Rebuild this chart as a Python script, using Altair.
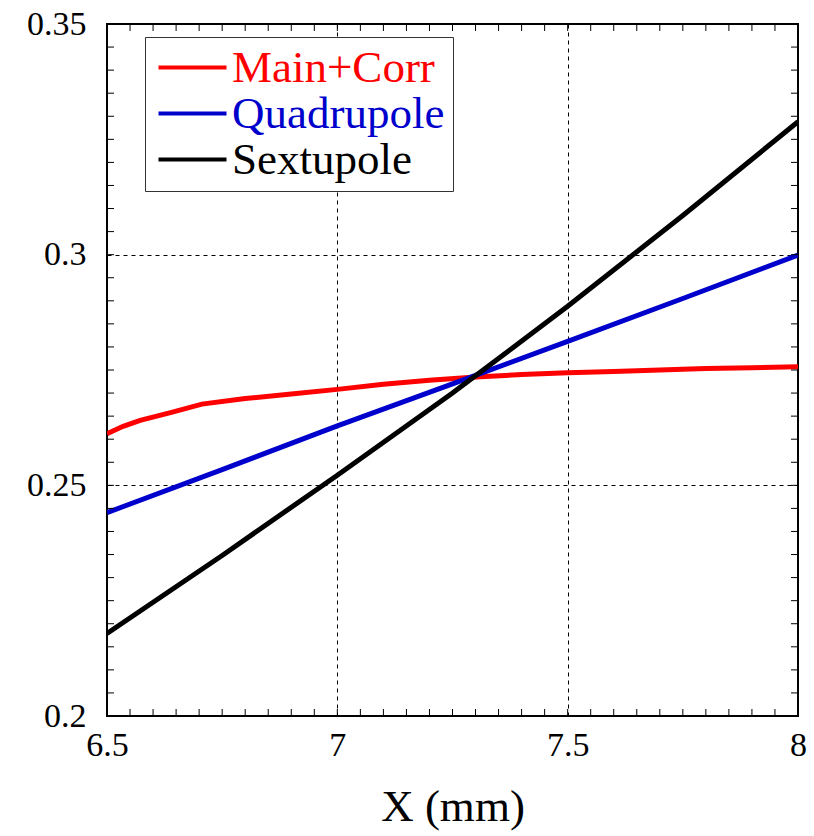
import altair as alt
import pandas as pd
import numpy as np

# ---- data ----
series_names = ["Main+Corr", "Quadrupole", "Sextupole"]
series_colors = ["#ff0000", "#0000cc", "#000000"]

x_main = [6.5, 6.535, 6.572, 6.64, 6.706, 6.8, 6.9, 7.0, 7.1, 7.2, 7.3, 7.4, 7.5, 7.6, 7.7, 7.8, 7.9, 8.0]
y_main = [0.2612, 0.2628, 0.2641, 0.2658, 0.2676, 0.2688, 0.2698, 0.2708, 0.2719, 0.2728, 0.2735, 0.2740,
          0.2744, 0.2747, 0.2750, 0.2753, 0.2755, 0.2757]

x_quad = [6.5, 6.75, 7.0, 7.25, 7.5, 7.75, 8.0]
y_quad = [0.2441, 0.2534, 0.2629, 0.2720, 0.2812, 0.2905, 0.2999]

x_sext = [6.5, 6.75, 7.0, 7.25, 7.5, 7.75, 8.0]
y_sext = [0.2179, 0.2348, 0.2522, 0.2700, 0.2888, 0.3085, 0.3288]

x_major = [6.5, 7.0, 7.5, 8.0]
y_major = [0.2, 0.25, 0.3, 0.35]
x_minor = [round(6.5 + 0.05 * i, 3) for i in range(31)]
y_minor = [round(0.2 + 0.005 * i, 4) for i in range(31)]

W, H = 691, 692
TICK = 7
FONT = "Liberation Serif, Times New Roman, Times, serif"

rows = []
for name, xs, ys in [("Main+Corr", x_main, y_main), ("Quadrupole", x_quad, y_quad), ("Sextupole", x_sext, y_sext)]:
    for i, (a, b) in enumerate(zip(xs, ys)):
        rows.append({"x": a, "y": b, "series": name, "order": i})
df = pd.DataFrame(rows)
df_xt = pd.DataFrame({"x": x_minor})
df_yt = pd.DataFrame({"y": y_minor})

xscale = alt.Scale(domain=[6.5, 8.0], nice=False, zero=False)
yscale = alt.Scale(domain=[0.2, 0.35], nice=False, zero=False)

xaxis = alt.Axis(values=x_major, format="~g", tickSize=0, domain=False, labelFlush=False,
                 grid=True, gridDash=[4, 4], gridColor="black", gridWidth=1, gridOpacity=1,
                 labelFont=FONT, labelFontSize=34, labelColor="black", labelPadding=12,
                 title="X (mm)", titleFont=FONT, titleFontSize=45, titleFontWeight="normal",
                 titleColor="black", titlePadding=22)
yaxis = alt.Axis(values=y_major, format="~g", tickSize=0, domain=False, labelFlush=False,
                 grid=True, gridDash=[4, 4], gridColor="black", gridWidth=1, gridOpacity=1,
                 labelFont=FONT, labelFontSize=34, labelColor="black", labelPadding=21,
                 title="")

label_expr = ("datum.label == 'Main+Corr' ? '#ff0000' : "
              "(datum.label == 'Quadrupole' ? '#0000cc' : 'black')")

lines = alt.Chart(df).mark_line(strokeWidth=5, clip=True).encode(
    x=alt.X("x:Q", scale=xscale, axis=xaxis),
    y=alt.Y("y:Q", scale=yscale, axis=yaxis),
    order="order:Q",
    color=alt.Color("series:N",
                    scale=alt.Scale(domain=series_names, range=series_colors),
                    sort=series_names,
                    legend=alt.Legend(title=None, orient="none", legendX=38, legendY=13,
                                      symbolType="M-1,0H3", symbolSize=1156, symbolStrokeWidth=4,
                                      symbolFillColor="transparent",
                                      labelFont=FONT, labelFontSize=45, labelColor=alt.ExprRef(label_expr),
                                      labelOffset=34, rowPadding=0, padding=8,
                                      strokeColor="#333333", fillColor="white",
                                      labelLimit=400)),
)

bottom_ticks = alt.Chart(df_xt).mark_rule(color="black", strokeWidth=1).encode(
    x=alt.X("x:Q", scale=xscale, axis=xaxis), y=alt.value(H), y2=alt.value(H - TICK))
top_ticks = alt.Chart(df_xt).mark_rule(color="black", strokeWidth=1).encode(
    x=alt.X("x:Q", scale=xscale, axis=xaxis), y=alt.value(0), y2=alt.value(TICK))
left_ticks = alt.Chart(df_yt).mark_rule(color="black", strokeWidth=1).encode(
    y=alt.Y("y:Q", scale=yscale, axis=yaxis), x=alt.value(0), x2=alt.value(TICK))
right_ticks = alt.Chart(df_yt).mark_rule(color="black", strokeWidth=1).encode(
    y=alt.Y("y:Q", scale=yscale, axis=yaxis), x=alt.value(W), x2=alt.value(W - TICK))

chart = alt.layer(lines, bottom_ticks, top_ticks, left_ticks, right_ticks).properties(
    width=W, height=H,
    autosize=alt.AutoSizeParams(type="none"),
    padding={"left": 107, "top": 24, "right": 16, "bottom": 120},
    background="white",
).configure_view(stroke="black", strokeWidth=2)

chart.save("out.html", embed_options={"renderer": "svg", "actions": False})
